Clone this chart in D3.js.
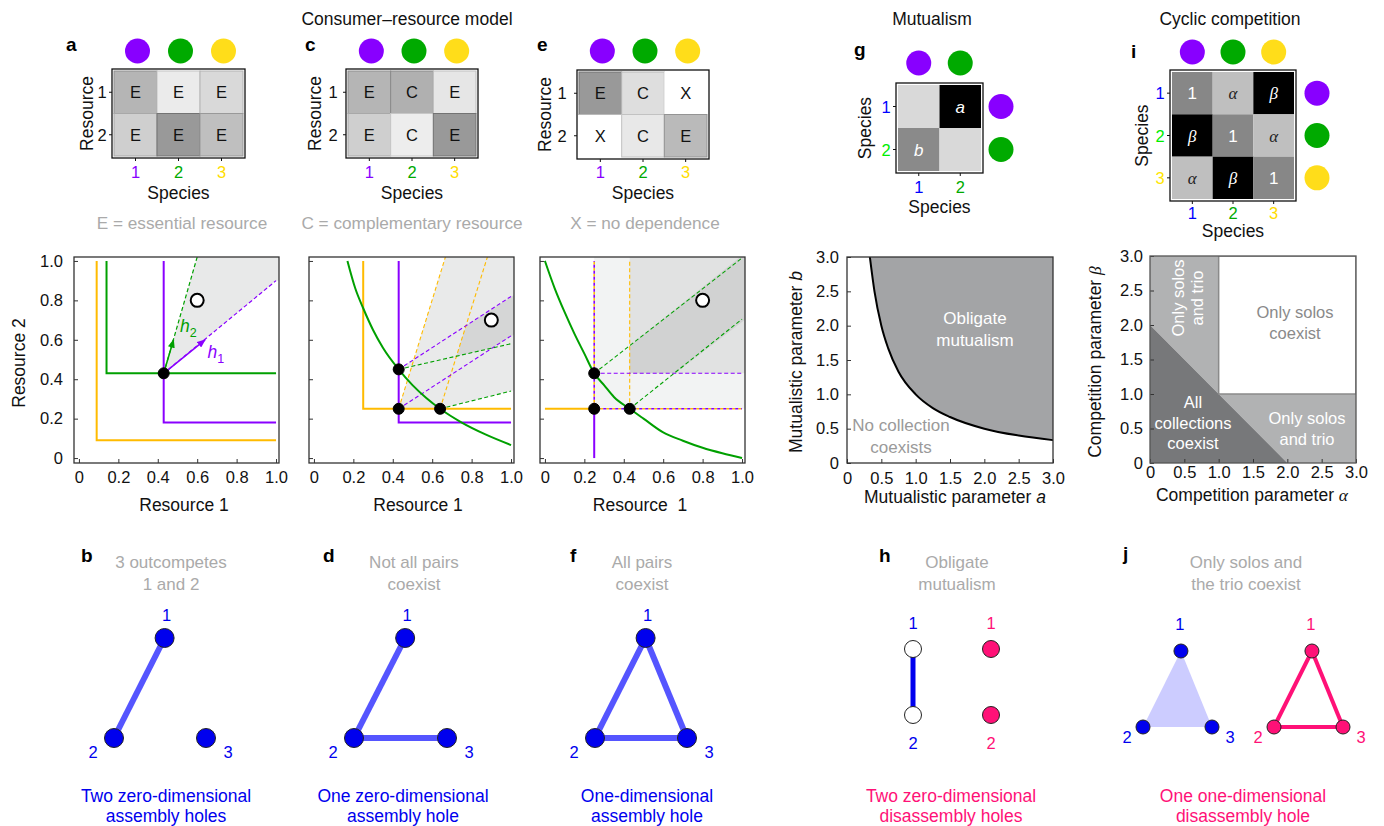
<!DOCTYPE html>
<html>
<head>
<meta charset="utf-8">
<script src="https://d3js.org/d3.v7.min.js"></script>
<style>
  body { margin: 0; background: #fff; }
  svg { display: block; }
</style>
</head>
<body>
<script>
// ---------------- data ----------------
const speciesFill = ['#8800ff', '#00aa00', '#ffdd1a'];
const speciesText = ['#8800ff', '#00aa00', '#ffdd00'];
const rowTextGI = ['#0000ff', '#00ee00', '#ffe600'];
const colTextGI = ['#0000ff', '#00aa00', '#ffdd00'];

// resource dependence types and consumption (grey level 0..1)
const typeA = [['E', 'E', 'E'], ['E', 'E', 'E']];
const shadeA = [[0.29, 0.08, 0.15], [0.19, 0.40, 0.25]];
const typeC = [['E', 'C', 'E'], ['E', 'C', 'E']];
const shadeC = [[0.29, 0.31, 0.10], [0.19, 0.07, 0.40]];
const typeE = [['E', 'C', 'X'], ['X', 'C', 'E']];
const shadeE = [[0.40, 0.13, 0], [0, 0.09, 0.27]];
const mutLabels = [['', 'a'], ['b', '']];
const mutShade = [[0.15, 1], [0.46, 0.15]];
const cycLabels = [['1', 'α', 'β'], ['β', '1', 'α'], ['α', 'β', '1']];
const cycShade = [[0.47, 0.25, 1], [1, 0.47, 0.25], [0.25, 1, 0.47]];

const resTicks = [0, 0.2, 0.4, 0.6, 0.8, 1.0];
const paramTicks = [0, 0.5, 1.0, 1.5, 2.0, 2.5, 3.0];

// panel a
const aYellowZNGI = [[0.09, 1.0], [0.09, 0.09], [1.0, 0.09]];
const aGreenZNGI = [[0.14, 1.0], [0.14, 0.43], [1.0, 0.43]];
const aPurpleZNGI = [[0.43, 1.0], [0.43, 0.18], [1.0, 0.18]];
const aCone = [[0.43, 0.43], [0.6, 1.02], [1.02, 1.02], [1.02, 0.9], [1.0, 0.9]];
const aGreenImpact = [[0.43, 0.43], [0.6, 1.02]];
const aPurpleImpact = [[0.43, 0.43], [1.0, 0.9]];
const aGreenArrow = [[0.43, 0.43], [0.48, 0.6]];
const aPurpleArrow = [[0.43, 0.43], [0.64, 0.6]];
const aEquilibria = [[0.43, 0.43]];
const aSupply = [[0.6, 0.8]];

// panel c
const cYellowZNGI = [[0.25, 1.0], [0.25, 0.25], [1.0, 0.25]];
const cPurpleZNGI = [[0.43, 1.0], [0.43, 0.18], [1.0, 0.18]];
const cGreenZNGI = [[0.17, 1.0], [0.21, 0.86], [0.25, 0.76], [0.3, 0.65], [0.35, 0.56], [0.43, 0.45],
  [0.5, 0.37], [0.57, 0.305], [0.64, 0.25], [0.75, 0.18], [0.87, 0.12], [1.0, 0.066]];
const cYellowImpacts = [[[0.43, 0.25], [0.667, 1.02]], [[0.64, 0.25], [0.88, 1.02]]];
const cPurpleImpacts = [[[0.43, 0.45], [1.0, 0.82]], [[0.43, 0.25], [1.0, 0.62]]];
const cGreenImpacts = [[[0.43, 0.45], [1.0, 0.58]], [[0.64, 0.25], [1.0, 0.34]]];
const cConeUnion = [[0.43, 0.25], [0.496, 0.465], [0.43, 0.45], [0.507, 0.5], [0.667, 1.02],
  [1.02, 1.02], [1.02, 0.345], [0.64, 0.25]];
const cConeCore = [[0.723, 0.517], [0.904, 0.558], [1.02, 0.63], [1.02, 0.83], [0.772, 0.672]];
const cEquilibria = [[0.43, 0.45], [0.43, 0.25], [0.64, 0.25]];
const cSupply = [[0.9, 0.7]];

// panel e
const eGreenZNGI = [[0, 1.0], [0.05, 0.86], [0.1, 0.74], [0.15, 0.63], [0.2, 0.53], [0.25, 0.43],
  [0.3, 0.37], [0.35, 0.31], [0.43, 0.25], [0.5, 0.2], [0.6, 0.13], [0.7, 0.088], [0.8, 0.052],
  [0.9, 0.024], [1.0, 0.0]];
const eYellowSolid = [[0, 0.25], [0.25, 0.25]];
const ePurpleSolid = [[0.25, 0], [0.25, 0.25]];
const eMixedDashed = [[[0.25, 0.25], [1.0, 0.25]], [[0.25, 0.25], [0.25, 1.0]]];
const eYellowDashed = [[[0.43, 0.25], [0.43, 1.0]]];
const ePurpleDashed = [[[0.25, 0.43], [1.0, 0.43]]];
const eGreenDashed = [[[0.25, 0.43], [1.0, 1.015]], [[0.43, 0.25], [1.0, 0.705]]];
const eRegionOuter = [[0.25, 0.25], [1.02, 0.25], [1.02, 1.02], [0.25, 1.02]];
const eRegionMid = [[0.43, 0.43], [1.02, 0.43], [1.02, 1.02], [0.43, 1.02]];
const eRegionCore = [[0.43, 0.43], [0.43, 0.57], [0.99, 1.02], [1.02, 1.02], [1.02, 0.705], [0.66, 0.43]];
const eEquilibria = [[0.25, 0.43], [0.25, 0.25], [0.43, 0.25]];
const eSupply = [[0.8, 0.8]];

// panel g: obligate mutualism boundary
const mutA = [0.333, 0.4, 0.5, 0.6, 0.75, 1.0, 1.25, 1.5, 2.0, 2.5, 3.0];
const mutB = [3.0, 2.5, 2.0, 1.67, 1.33, 1.0, 0.8, 0.67, 0.5, 0.4, 0.333];

// panel i: regions in (alpha, beta)
const cycAll = [[0, 0], [2, 0], [1, 1], [0, 2]];
const cycTrioA = [[0, 2], [1, 1], [1, 3], [0, 3]];
const cycTrioB = [[1, 1], [2, 0], [3, 0], [3, 1]];
const cycSolos = [[1, 1], [3, 1], [3, 3], [1, 3]];

// bottom graphs
const nodeIds = [1, 2, 3];
const edgesB = [[1, 2]];
const edgesD = [[1, 2], [2, 3]];
const edgesF = [[1, 2], [2, 3], [3, 1]];
const edgesH = [[1, 2]];
const trioJ = [1, 2, 3];
const edgesJ = [[1, 2], [2, 3], [3, 1]];

// ---------------- drawing ----------------
const FONT = "'Liberation Sans', Arial, Helvetica, sans-serif";
const svg = d3.select('body').append('svg')
  .attr('width', 1384).attr('height', 826)
  .style('font-family', FONT);

const grey = d3.scaleLinear().domain([0, 1]).range(['#ffffff', '#000000']).clamp(true);
const YEL = '#ffbb00', PUR = '#8a00ff', GRN = '#00a000';

function txt(x, y, s, o = {}) {
  const t = svg.append('text').attr('x', x).attr('y', y).text(s)
    .attr('font-size', o.size || 16).attr('fill', o.fill || '#111')
    .attr('text-anchor', o.anchor || 'middle');
  if (o.weight) t.attr('font-weight', o.weight);
  if (o.italic) t.attr('font-style', 'italic');
  if (o.family) t.attr('font-family', o.family);
  if (o.rotate) t.attr('transform', `rotate(${o.rotate},${x},${y})`);
  return t;
}

function heatmap(o) {
  const nr = o.labels.length, nc = o.labels[0].length;
  const x = d3.scaleBand().domain(d3.range(nc)).range([o.left + 2, o.right - 2]);
  const y = d3.scaleBand().domain(d3.range(nr)).range([o.top + 2, o.bottom - 2]);
  const cells = [];
  o.labels.forEach((row, r) => row.forEach((lab, c) => cells.push({ r, c, lab, v: o.shade[r][c] })));
  const g = svg.append('g');
  g.selectAll('rect.cell').data(cells).join('rect').attr('class', 'cell')
    .attr('x', d => x(d.c)).attr('y', d => y(d.r))
    .attr('width', x.bandwidth()).attr('height', y.bandwidth())
    .attr('fill', d => grey(d.v))
    .attr('stroke', d => (o.cellStroke && d.v > 0) ? grey(d.v + 0.15) : 'none');
  g.append('rect').attr('x', o.left).attr('y', o.top)
    .attr('width', o.right - o.left).attr('height', o.bottom - o.top)
    .attr('fill', 'none').attr('stroke', '#111').attr('stroke-width', 1.3);
  g.selectAll('line.tx').data(d3.range(nc)).join('line')
    .attr('x1', c => x(c) + x.bandwidth() / 2).attr('x2', c => x(c) + x.bandwidth() / 2)
    .attr('y1', o.bottom).attr('y2', o.bottom + 3).attr('stroke', '#111');
  g.selectAll('line.ty').data(d3.range(nr)).join('line')
    .attr('y1', r => y(r) + y.bandwidth() / 2).attr('y2', r => y(r) + y.bandwidth() / 2)
    .attr('x1', o.left).attr('x2', o.left - 3).attr('stroke', '#111');
  g.selectAll('text.cl').data(cells.filter(d => d.lab)).join('text')
    .attr('x', d => x(d.c) + x.bandwidth() / 2).attr('y', d => y(d.r) + y.bandwidth() / 2)
    .attr('dy', '0.36em').attr('text-anchor', 'middle')
    .attr('font-size', o.cellSize || 16.5)
    .attr('font-family', d => o.labelFamily ? o.labelFamily(d) : FONT)
    .attr('font-style', d => o.labelItalic && o.labelItalic(d) ? 'italic' : 'normal')
    .attr('fill', d => o.labelFill ? o.labelFill(d) : '#111')
    .text(d => d.lab);
  // column labels and top circles
  d3.range(nc).forEach(c => {
    const cx = x(c) + x.bandwidth() / 2;
    txt(cx, o.colLabY + 6, String(c + 1), { size: 16.5, fill: o.colColors[c] });
    svg.append('circle').attr('cx', cx + (o.circShift || 0)).attr('cy', o.circY).attr('r', 12.5)
      .attr('fill', speciesFill[c]);
  });
  d3.range(nr).forEach(r => {
    const cy = y(r) + y.bandwidth() / 2;
    txt(o.rowLabX, cy + 6, String(r + 1), { size: 16.5, fill: o.rowColors ? o.rowColors[r] : '#111' });
    if (o.rightCircX) {
      svg.append('circle').attr('cx', o.rightCircX).attr('cy', cy).attr('r', 12.5)
        .attr('fill', speciesFill[r]);
    }
  });
  txt((o.left + o.right) / 2, o.xLabY + 6, 'Species', { size: 17.5 });
  txt(o.yLabX + 6, (o.top + o.bottom) / 2, o.yLab, { size: 17.5, rotate: -90 });
}

function panel(id, xDom, yDom, xRange, yRange) {
  const x = d3.scaleLinear().domain(xDom).range(xRange);
  const y = d3.scaleLinear().domain(yDom).range(yRange);
  svg.append('clipPath').attr('id', id).append('rect')
    .attr('x', xRange[0]).attr('y', yRange[1])
    .attr('width', xRange[1] - xRange[0]).attr('height', yRange[0] - yRange[1]);
  const plot = svg.append('g').attr('clip-path', `url(#${id})`);
  const line = d3.line().x(d => x(d[0])).y(d => y(d[1]));
  return { x, y, plot, line };
}

function frame(p, ticks, o) {
  const fmt = d => d === 0 ? '0' : d3.format('.1f')(d);
  const [x0, x1] = p.x.range(), [y0, y1] = p.y.range();
  const ax = svg.append('g').attr('transform', `translate(0,${y0})`)
    .call(d3.axisBottom(p.x).tickValues(ticks).tickFormat(fmt).tickSize(-4).tickPadding(o.xPad));
  const ay = svg.append('g').attr('transform', `translate(${x0},0)`)
    .call(d3.axisLeft(p.y).tickValues(ticks).tickFormat(o.yLabels ? fmt : '').tickSize(-4).tickPadding(o.yPad || 8));
  [ax, ay].forEach(a => {
    a.select('.domain').remove();
    a.attr('font-size', 16.5).attr('font-family', FONT);
    a.selectAll('line').attr('stroke', '#333');
    a.selectAll('text').attr('fill', '#111');
  });
  svg.append('rect').attr('x', x0).attr('y', y1).attr('width', x1 - x0).attr('height', y0 - y1)
    .attr('fill', 'none').attr('stroke', o.frameColor || '#333').attr('stroke-width', 1.3);
}

function poly(p, pts, fill) {
  p.plot.append('path').attr('d', p.line(pts) + 'Z').attr('fill', fill);
}
function path(p, pts, color, w, dash, off) {
  const el = p.plot.append('path').attr('d', p.line(pts)).attr('fill', 'none')
    .attr('stroke', color).attr('stroke-width', w);
  if (dash) el.attr('stroke-dasharray', dash);
  if (off) el.attr('stroke-dashoffset', off);
  return el;
}
function dots(p, pts, filled) {
  svg.append('g').selectAll('circle').data(pts).join('circle')
    .attr('cx', d => p.x(d[0])).attr('cy', d => p.y(d[1]))
    .attr('r', filled ? 5.5 : 6.5)
    .attr('fill', filled ? '#000' : '#fff')
    .attr('stroke', '#000').attr('stroke-width', filled ? 1 : 2);
}

// arrow markers
const defs = svg.append('defs');
[['arrG', GRN], ['arrP', PUR]].forEach(([id, col]) => {
  defs.append('marker').attr('id', id).attr('viewBox', '0 0 10 8')
    .attr('refX', 9).attr('refY', 4).attr('markerWidth', 9).attr('markerHeight', 7)
    .attr('markerUnits', 'userSpaceOnUse').attr('orient', 'auto')
    .append('path').attr('d', 'M0,0L10,4L0,8Z').attr('fill', col);
});

// ---- titles ----
txt(407, 25, 'Consumer–resource model', { size: 17.5 });
txt(932, 25, 'Mutualism', { size: 17.5 });
txt(1230, 25, 'Cyclic competition', { size: 17.5 });

const letter = (x, y, s) => txt(x, y, s, { size: 19, weight: 'bold', anchor: 'start', fill: '#000' });
letter(66, 51, 'a'); letter(305, 51, 'c'); letter(537, 51, 'e');
letter(854, 56, 'g'); letter(1131, 58, 'i');
letter(81, 562, 'b'); letter(323, 562, 'd'); letter(570, 562, 'f');
letter(879, 562, 'h'); letter(1123, 560, 'j');

// ---- heatmaps ----
const cfgRes = { cellStroke: true, colColors: speciesText, circY: 51, circShift: 2, colLabY: 172, xLabY: 193, yLab: 'Resource' };
heatmap(Object.assign({}, cfgRes, { labels: typeA, shade: shadeA, left: 112, right: 245, top: 69, bottom: 158, rowLabX: 102, yLabX: 87 }));
heatmap(Object.assign({}, cfgRes, { labels: typeC, shade: shadeC, left: 346, right: 478, top: 69, bottom: 158, rowLabX: 333, yLabX: 315 }));
heatmap(Object.assign({}, cfgRes, { labels: typeE, shade: shadeE, left: 577, right: 709, top: 70, bottom: 159, rowLabX: 562, yLabX: 545 }));
txt(182, 229, 'E = essential resource', { size: 17.2, fill: '#aaa' });
txt(412, 229, 'C = complementary resource', { size: 17.2, fill: '#aaa' });
txt(645, 229, 'X = no dependence', { size: 17.2, fill: '#aaa' });

heatmap({
  labels: mutLabels, shade: mutShade, left: 896, right: 983, top: 83, bottom: 173,
  colColors: colTextGI, rowColors: rowTextGI, circY: 63, rightCircX: 1001,
  colLabY: 187, xLabY: 207, rowLabX: 886, yLabX: 865, yLab: 'Species',
  labelFill: () => '#fff', labelItalic: () => true, cellSize: 17
});
heatmap({
  labels: cycLabels, shade: cycShade, left: 1170, right: 1296, top: 70, bottom: 201,
  colColors: colTextGI, rowColors: rowTextGI, circY: 52, rightCircX: 1317,
  colLabY: 213, xLabY: 231, rowLabX: 1160, yLabX: 1142, yLab: 'Species',
  labelFill: d => d.lab === 'α' ? '#222' : '#fff',
  labelItalic: d => d.lab !== '1',
  labelFamily: d => d.lab === '1' ? FONT : "'Liberation Serif', 'DejaVu Serif', serif",
  cellSize: 17
});

// ---- panel a ----
const pa = panel('clipA', [-0.025, 1.015], [-0.025, 1.02], [74, 279], [463, 257]);
poly(pa, aCone, '#e8e9e9');
path(pa, aYellowZNGI, YEL, 2);
path(pa, aGreenZNGI, GRN, 2);
path(pa, aPurpleZNGI, PUR, 2);
path(pa, aGreenImpact, GRN, 1.2, '4,2.5');
path(pa, aPurpleImpact, PUR, 1.2, '4,2.5');
path(pa, aGreenArrow, GRN, 1.5).attr('marker-end', 'url(#arrG)');
path(pa, aPurpleArrow, PUR, 1.5).attr('marker-end', 'url(#arrP)');
dots(pa, aEquilibria, true);
dots(pa, aSupply, false);
frame(pa, resTicks, { xPad: 8, yPad: 11, yLabels: true });
const hLab = (x, y, sub, col) => {
  const t = svg.append('text').attr('x', x).attr('y', y).attr('fill', col).attr('font-size', 17.5)
    .attr('text-anchor', 'middle');
  t.append('tspan').attr('font-style', 'italic').text('h');
  t.append('tspan').attr('font-size', 12.5).attr('dy', 5).text(sub);
};
hLab(pa.x(0.555), pa.y(0.665) + 5, '2', GRN);
hLab(pa.x(0.695), pa.y(0.533) + 5, '1', PUR);
txt(184, 511, 'Resource 1', { size: 17.5 });
txt(25, 363, 'Resource 2', { size: 17.5, rotate: -90 });

// ---- panel c ----
const pc = panel('clipC', [-0.025, 1.015], [-0.025, 1.02], [309, 514], [463, 257]);
poly(pc, cConeUnion, '#e9eaea');
poly(pc, cConeCore, '#d5d6d6');
cYellowImpacts.forEach(s => path(pc, s, YEL, 1.1, '4,2.5'));
cPurpleImpacts.forEach(s => path(pc, s, PUR, 1.1, '4,2.5'));
cGreenImpacts.forEach(s => path(pc, s, GRN, 1.1, '4,2.5'));
path(pc, cYellowZNGI, YEL, 2);
path(pc, cPurpleZNGI, PUR, 2);
pc.plot.append('path').attr('d', d3.line().x(d => pc.x(d[0])).y(d => pc.y(d[1])).curve(d3.curveMonotoneX)(cGreenZNGI))
  .attr('fill', 'none').attr('stroke', GRN).attr('stroke-width', 2);
dots(pc, cEquilibria, true);
dots(pc, cSupply, false);
frame(pc, resTicks, { xPad: 8 });
txt(418, 511, 'Resource 1', { size: 17.5 });

// ---- panel e ----
const pe = panel('clipE', [-0.025, 1.015], [-0.025, 1.02], [540, 745], [463, 257]);
poly(pe, eRegionOuter, '#f2f3f3');
poly(pe, eRegionMid, '#e1e2e2');
poly(pe, eRegionCore, '#d1d2d2');
eYellowDashed.forEach(s => path(pe, s, YEL, 1.1, '4,2.5'));
ePurpleDashed.forEach(s => path(pe, s, PUR, 1.1, '4,2.5'));
eGreenDashed.forEach(s => path(pe, s, GRN, 1.1, '4,2.5'));
eMixedDashed.forEach(s => { path(pe, s, YEL, 1.6, '3,3'); path(pe, s, PUR, 1.6, '3,3', 3); });
path(pe, eYellowSolid, YEL, 2);
path(pe, ePurpleSolid, PUR, 2);
pe.plot.append('path').attr('d', d3.line().x(d => pe.x(d[0])).y(d => pe.y(d[1])).curve(d3.curveMonotoneX)(eGreenZNGI))
  .attr('fill', 'none').attr('stroke', GRN).attr('stroke-width', 2);
dots(pe, eEquilibria, true);
dots(pe, eSupply, false);
frame(pe, resTicks, { xPad: 8 });
txt(640, 511, 'Resource\u00a0 1', { size: 17.5 });

// ---- panel g ----
const pg = panel('clipG', [0, 3], [0, 3], [847, 1053], [463, 257]);
const mutPts = mutA.map((a, i) => [a, mutB[i]]);
pg.plot.append('path')
  .attr('d', d3.area().x(d => pg.x(d[0])).y0(pg.y(3.05)).y1(d => pg.y(d[1])).curve(d3.curveMonotoneX)(mutPts.concat([[3.05, 0.33]])))
  .attr('fill', '#a3a4a6');
pg.plot.append('path')
  .attr('d', d3.line().x(d => pg.x(d[0])).y(d => pg.y(d[1])).curve(d3.curveMonotoneX)(mutPts))
  .attr('fill', 'none').attr('stroke', '#000').attr('stroke-width', 2);
frame(pg, paramTicks, { xPad: 9, yPad: 8, yLabels: true });
txt(975, 324, 'Obligate', { size: 17, fill: '#fff' });
txt(975, 346, 'mutualism', { size: 17, fill: '#fff' });
txt(901, 431, 'No collection', { size: 17, fill: '#9a9a9a' });
txt(901, 453, 'coexists', { size: 17, fill: '#9a9a9a' });
{
  const t = txt(955, 503, 'Mutualistic parameter ', { size: 17.5 });
  t.append('tspan').attr('font-style', 'italic').text('a');
  const u = txt(802, 362, 'Mutualistic parameter ', { size: 17.5, rotate: -90 });
  u.append('tspan').attr('font-style', 'italic').text('b');
}

// ---- panel i ----
const pi = panel('clipI', [0, 3], [0, 3], [1150, 1356], [463, 256]);
poly(pi, cycTrioA, '#b1b2b3');
poly(pi, cycTrioB, '#b1b2b3');
poly(pi, cycAll, '#77787a');
pi.plot.append('path').attr('d', pi.line(cycSolos) + 'Z').attr('fill', '#fff')
  .attr('stroke', '#8a8a8a').attr('stroke-width', 1.5);
frame(pi, paramTicks, { xPad: 3, yPad: 7, yLabels: true, frameColor: '#555' });
{
  const g = svg.append('g').attr('transform', 'translate(1188,298) rotate(-90)');
  g.append('text').attr('x', 0).attr('y', -4).attr('text-anchor', 'middle').attr('font-size', 16.5).attr('fill', '#fff').text('Only solos');
  g.append('text').attr('x', 0).attr('y', 15).attr('text-anchor', 'middle').attr('font-size', 16.5).attr('fill', '#fff').text('and trio');
}
txt(1295, 318, 'Only solos', { size: 16.5, fill: '#8a8a8a' });
txt(1295, 339, 'coexist', { size: 16.5, fill: '#8a8a8a' });
txt(1193, 408, 'All', { size: 16.5, fill: '#fff' });
txt(1193, 429, 'collections', { size: 16.5, fill: '#fff' });
txt(1193, 449, 'coexist', { size: 16.5, fill: '#fff' });
txt(1307, 424, 'Only solos', { size: 16.5, fill: '#fff' });
txt(1307, 445, 'and trio', { size: 16.5, fill: '#fff' });
{
  const t = txt(1252, 501, 'Competition parameter ', { size: 17.5 });
  t.append('tspan').attr('font-family', "'Liberation Serif', serif").attr('font-style', 'italic').text('α');
  const u = txt(1101, 362, 'Competition parameter ', { size: 17.5, rotate: -90 });
  u.append('tspan').attr('font-family', "'Liberation Serif', serif").attr('font-style', 'italic').text('β');
}

// ---- bottom graphs ----
const triLayout = { 1: [0.55, 0], 2: [0, 1], 3: [1, 1] };
const pairLayout = { 1: [0, 0], 2: [0, 1] };

function graph(o) {
  const sx = d3.scaleLinear().domain([0, 1]).range([o.x0, o.x0 + o.w]);
  const sy = d3.scaleLinear().domain([0, 1]).range([o.y0, o.y0 + o.h]);
  const pos = id => [sx(o.layout[id][0]), sy(o.layout[id][1])];
  const g = svg.append('g');
  if (o.simplex) {
    g.append('path').attr('d', d3.line()(o.simplex.map(pos)) + 'Z').attr('fill', '#ccccff');
  }
  g.selectAll('line').data(o.edges || []).join('line')
    .attr('x1', d => pos(d[0])[0]).attr('y1', d => pos(d[0])[1])
    .attr('x2', d => pos(d[1])[0]).attr('y2', d => pos(d[1])[1])
    .attr('stroke', o.edgeColor).attr('stroke-width', o.edgeW);
  g.selectAll('circle').data(o.nodes).join('circle')
    .attr('cx', d => pos(d)[0]).attr('cy', d => pos(d)[1]).attr('r', o.r)
    .attr('fill', o.nodeFill).attr('stroke', '#222').attr('stroke-width', 1);
  o.nodes.forEach(id => {
    const [px, py] = pos(id), off = o.labOff[id];
    txt(px + off[0], py + off[1] + 6, String(id), { size: 16.5, fill: o.labColor });
  });
}

const triOff = { 1: [2, -23], 2: [-21, 14], 3: [22, 14] };
const blueEdge = '#5555ff';
graph({ layout: triLayout, nodes: nodeIds, edges: edgesB, x0: 114, w: 92, y0: 638, h: 100, r: 9.5, nodeFill: '#0000ee', edgeColor: blueEdge, edgeW: 6, labColor: '#0000ee', labOff: triOff });
graph({ layout: triLayout, nodes: nodeIds, edges: edgesD, x0: 354, w: 93, y0: 638, h: 100, r: 9.5, nodeFill: '#0000ee', edgeColor: blueEdge, edgeW: 6, labColor: '#0000ee', labOff: triOff });
graph({ layout: triLayout, nodes: nodeIds, edges: edgesF, x0: 595, w: 92, y0: 638, h: 100, r: 9.5, nodeFill: '#0000ee', edgeColor: blueEdge, edgeW: 6, labColor: '#0000ee', labOff: triOff });

const pairOff = { 1: [0, -26], 2: [0, 28] };
graph({ layout: pairLayout, nodes: [1, 2], edges: edgesH, x0: 913, w: 0, y0: 649, h: 66, r: 8.5, nodeFill: '#fff', edgeColor: '#0000ee', edgeW: 5, labColor: '#0000ee', labOff: pairOff });
graph({ layout: pairLayout, nodes: [1, 2], edges: [], x0: 991, w: 0, y0: 649, h: 66, r: 8.5, nodeFill: '#ff1177', edgeColor: '#ff1177', edgeW: 4, labColor: '#ff1177', labOff: pairOff });

const jOff = { 1: [-1, -27], 2: [-16, 10], 3: [18, 10] };
graph({ layout: triLayout, nodes: nodeIds, edges: [], simplex: trioJ, x0: 1143, w: 69, y0: 651, h: 76, r: 7, nodeFill: '#0000ee', edgeColor: blueEdge, edgeW: 4, labColor: '#0000ee', labOff: jOff });
graph({ layout: triLayout, nodes: nodeIds, edges: edgesJ, x0: 1274, w: 69, y0: 651, h: 76, r: 7, nodeFill: '#ff1177', edgeColor: '#ff1177', edgeW: 4, labColor: '#ff1177', labOff: jOff });

// captions
const grayCap = (x, lines) => lines.forEach((s, i) => txt(x, 568 + i * 22, s, { size: 17, fill: '#aaa' }));
grayCap(171, ['3 outcompetes', '1 and 2']);
grayCap(414, ['Not all pairs', 'coexist']);
grayCap(642, ['All pairs', 'coexist']);
grayCap(957, ['Obligate', 'mutualism']);
grayCap(1246, ['Only solos and', 'the trio coexist']);

const holeCap = (x, lines, col) => lines.forEach((s, i) => txt(x, 802 + i * 20, s, { size: 17.5, fill: col }));
holeCap(166, ['Two zero-dimensional', 'assembly holes'], '#0000ee');
holeCap(403, ['One zero-dimensional', 'assembly hole'], '#0000ee');
holeCap(647, ['One-dimensional', 'assembly hole'], '#0000ee');
holeCap(951, ['Two zero-dimensional', 'disassembly holes'], '#ff1177');
holeCap(1243, ['One one-dimensional', 'disassembly hole'], '#ff1177');
</script>
</body>
</html>
